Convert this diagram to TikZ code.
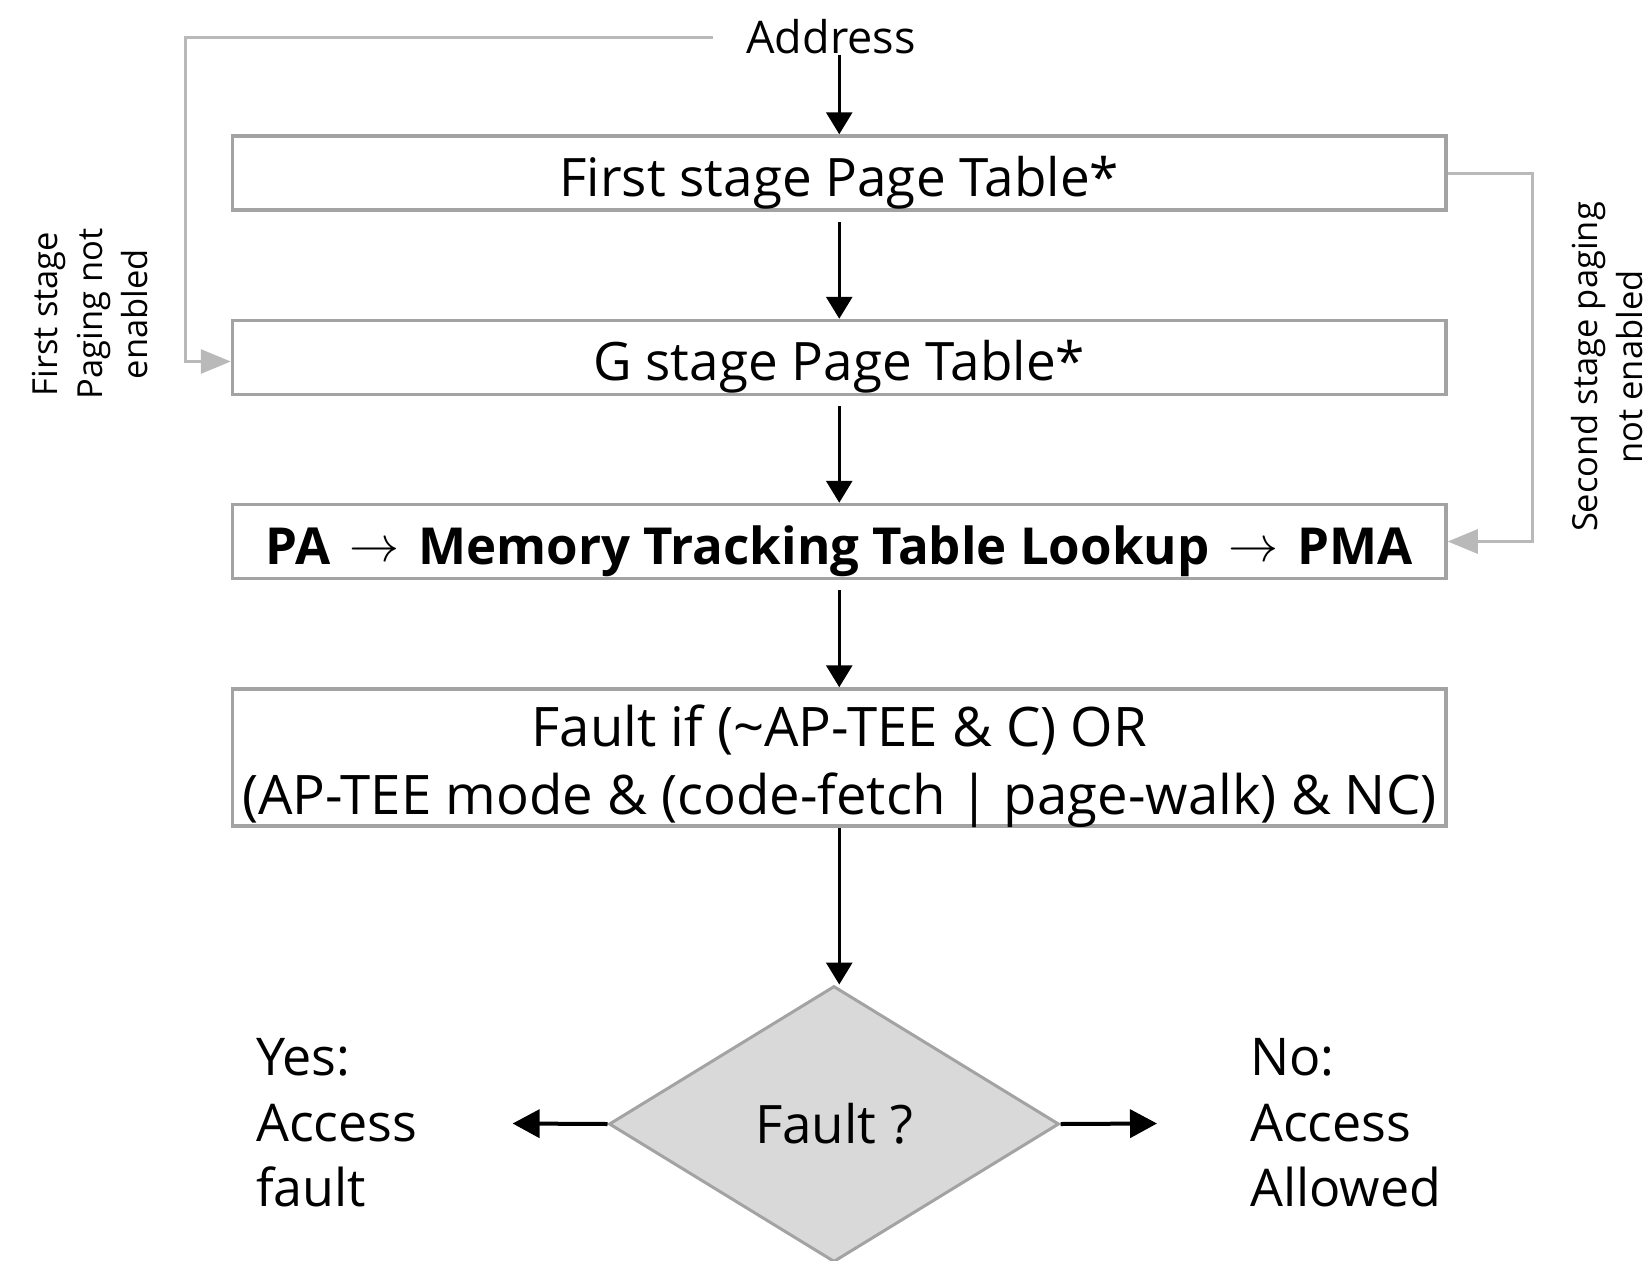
\documentclass[tikz,border=0pt]{standalone}
\usepackage{fontspec}
\usepackage{graphicx}
\setmainfont{Open Sans}
\usetikzlibrary{arrows.meta,shapes.geometric}
\definecolor{boxgray}{HTML}{A3A3A3}
\definecolor{linegray}{HTML}{B9B9B9}
\definecolor{fillgray}{HTML}{D9D9D9}
\newcommand{\thinarr}{\hspace{19pt}\raisebox{3pt}{\scalebox{5}{\fontsize{10}{12}\selectfont$\rightarrow$}}\hspace{19pt}}
\begin{document}
\begin{tikzpicture}[x=1pt,y=-1pt,
  stagebox/.style={draw=boxgray, line width=3.5pt, minimum width=1213.5pt,
    minimum height=74pt, inner sep=0pt, align=center,
    text height=46pt, text depth=0pt,
    font=\fontsize{53}{68}\selectfont},
  flow/.style={line width=3pt, -{Triangle[length=22pt,width=26pt]}},
  sideflow/.style={line width=4pt, -{Triangle[length=27pt,width=28pt]}},
  bypass/.style={draw=linegray, line width=3pt,
    -{Triangle[length=30pt,width=24pt]}},
  sidelbl/.style={rotate=90, align=center, inner sep=0pt,
    font=\fontsize{34.5}{45}\selectfont},
  outcome/.style={align=left, anchor=west, inner sep=0pt,
    font=\fontsize{52}{65.5}\selectfont}
]
\useasboundingbox (0,0) rectangle (1650,1261);
\clip (0,0) rectangle (1650,1261);
\fill[white] (0,0) rectangle (1650,1261);

\node[font=\fontsize{45}{54}\selectfont, inner sep=0pt] (addr) at (831,37) {Address};
\node[stagebox] (b1) at (839.25,173) {First stage Page Table*};
\node[stagebox] (b2) at (839.25,357.5) {G stage Page Table*};
\node[stagebox, font=\fontsize{51}{68}\selectfont\bfseries] (b3) at (839.25,541.5)
  {PA\thinarr Memory Tracking Table Lookup\thinarr PMA};
\node[stagebox, minimum height=137pt, text height=113pt, text depth=0pt,
  font=\fontsize{54.5}{68}\selectfont] (b4) at (839.25,757.5)
  {Fault if (\textasciitilde AP-TEE \& C) OR\\(AP-TEE mode \& (code-fetch | page-walk) \& NC)};
\node[diamond, draw=boxgray, fill=fillgray, line width=3pt, minimum width=450pt,
  minimum height=276pt, inner sep=0pt, font=\fontsize{53}{68}\selectfont] (d) at (834,1124) {Fault ?};

\node[outcome] (yes) at (256,1123) {Yes:\\Access\\fault};
\node[outcome] (no) at (1250,1123) {No:\\Access\\Allowed};

\node[sidelbl] (lbl1) at (90,314) {First stage\\Paging not\\enabled};
\node[sidelbl] (lbl2) at (1607,367) {Second stage paging\\not enabled};

\coordinate (lturn) at (185,37);
\coordinate (rturn) at (1532,173);
\draw[bypass] ([xshift=-33pt]addr.west) -- (lturn) |- ([yshift=-4pt]b2.west);
\draw[bypass] (b1.east) -- (rturn) |- (b3.east);

\draw[flow] (addr.south -| b1.north) -- (b1.north);
\draw[flow, shorten <=10pt] (b1.south) -- (b2.north);
\draw[flow, shorten <=10pt] (b2.south) -- (b3.north);
\draw[flow, shorten <=10pt] (b3.south) -- (b4.north);
\draw[flow] (b4.south) -- (b4.south |- d.north);
\draw[sideflow, shorten >=95pt] (d.west) -- (yes.east);
\draw[sideflow, shorten >=93pt] (d.east) -- (no.west);
\end{tikzpicture}
\end{document}
